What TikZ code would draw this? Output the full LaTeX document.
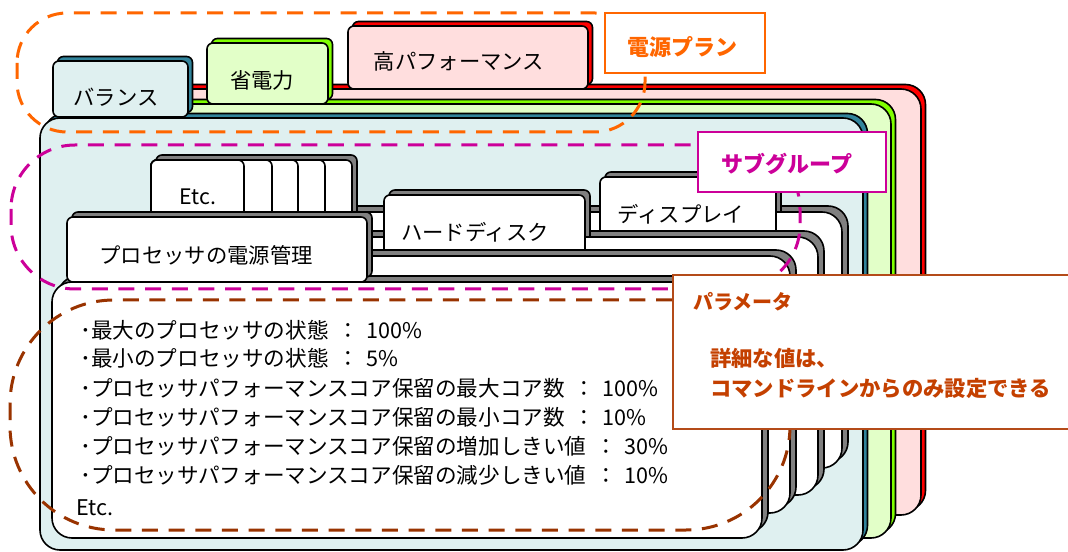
\documentclass[tikz,border=0pt]{standalone}
\usepackage{fontspec}
\setmainfont{Noto Sans CJK JP}
\definecolor{pinkf}{RGB}{255,222,222}
\definecolor{redr}{RGB}{255,0,0}
\definecolor{greenf}{RGB}{226,255,200}
\definecolor{greenr}{RGB}{128,255,0}
\definecolor{tealf}{RGB}{223,240,240}
\definecolor{tealr}{RGB}{49,132,155}
\definecolor{grayr}{RGB}{128,128,128}
\definecolor{orng}{RGB}{255,102,0}
\definecolor{mag}{RGB}{204,0,153}
\definecolor{brn}{RGB}{153,51,0}
\definecolor{ptext}{RGB}{196,64,0}
\definecolor{pbox}{RGB}{180,75,25}
\newcommand{\colsep}[1]{\hspace{0.4em}：\hspace{0.35em}#1}
\begin{document}
\begin{tikzpicture}[x=0.75pt,y=-0.75pt,
  ol/.style={draw=black,line width=1.2pt,line join=round},
  ptab/.style={ol,rounded corners=4.5pt},
  pbody/.style={ol,rounded corners=15pt},
  stab/.style={ol,rounded corners=4.5pt},
  sbody/.style={ol,rounded corners=15pt},
  tablbl/.style={inner sep=0pt,font=\fontsize{16pt}{18pt}\selectfont},
  listtxt/.style={inner sep=0pt,anchor=west,font=\fontsize{16.2pt}{19pt}\selectfont},
  loop/.style={line width=2.25pt,dash pattern=on 12pt off 8pt},
  lblbox/.style={line width=1.5pt,fill=white},
  lbltxt/.style={inner sep=0pt,font=\fontsize{16.5pt}{20pt}\selectfont\bfseries},
  paramtxt/.style={inner sep=0pt,anchor=west,text=ptext,font=\fontsize{16pt}{19pt}\selectfont\bfseries}
]
\useasboundingbox (0,0) rectangle (1068,552);
% ---------- power plans ----------
% high performance (red)
\draw[pbody,fill=redr] (64.5,84.5) rectangle (925.5,510.5);
\draw[ptab,fill=redr] (352.5,21.5) rectangle (592.5,84.5);
\draw[pbody,fill=pinkf] (60,89) rectangle (921,515);
\draw[ptab,fill=pinkf] (348,26) rectangle (588,89);
\node[tablbl] (high) at (459,61) {高パフォーマンス};
% power saver (green)
\draw[pbody,fill=greenr] (62.5,99.5) rectangle (895.5,533.5);
\draw[ptab,fill=greenr] (211.5,38.5) rectangle (332.5,99.5);
\draw[pbody,fill=greenf] (58,104) rectangle (891,538);
\draw[ptab,fill=greenf] (207,43) rectangle (328,104);
\node[tablbl] (saver) at (262,80) {省電力};
% balanced (teal)
\draw[pbody,fill=tealr] (44.5,113.5) rectangle (867.5,545.5);
\draw[ptab,fill=tealr] (57.5,56.5) rectangle (192.5,112.5);
\draw[pbody,fill=tealf] (40,118) rectangle (863,550);
\draw[ptab,fill=tealf] (53,61) rectangle (188,117);
\node[tablbl] (bal) at (116,97) {バランス};
% ---------- subgroups ----------
% display
\draw[sbody,fill=grayr] (166,206) rectangle (848,462);
\draw[stab,fill=grayr] (605,172) rectangle (781,235);
\draw[sbody,fill=white] (160,212) rectangle (842,468);
\draw[stab,fill=white] (600,177) rectangle (776,240);
\node[tablbl] (disp) at (681,214) {ディスプレイ};
% hard disk
\draw[sbody,fill=grayr] (166,231) rectangle (824,489);
\draw[stab,fill=grayr] (389,190) rectangle (590,251);
\draw[sbody,fill=white] (160,237) rectangle (818,495);
\draw[stab,fill=white] (384,195) rectangle (585,256);
\node[tablbl] (hdd) at (475,232) {ハードディスク};
% etc.
\draw[sbody,fill=grayr] (166,250) rectangle (796,507);
\draw[stab,fill=grayr] (156,155) rectangle (357,251);
\draw[sbody,fill=white] (160,256) rectangle (790,513);
\draw[stab,fill=white] (151,160) rectangle (352,256);
\draw[stab,fill=white] (151,160) rectangle (325,256);
\draw[stab,fill=white] (151,160) rectangle (298,256);
\draw[stab,fill=white] (151,160) rectangle (272,256);
\draw[stab,fill=white] (151,160) rectangle (244,256);
\node[tablbl] (etctab) at (198,197) {Etc.};
% processor
\draw[sbody,fill=grayr] (58,276) rectangle (768,532);
\draw[stab,fill=grayr] (72,212) rectangle (372,277);
\draw[sbody,fill=white] (52,282) rectangle (762,538);
\draw[stab,fill=white] (67,217) rectangle (367,282);
\node[tablbl] (proc) at (206,255) {プロセッサの電源管理};
% parameter list
\node[listtxt] (p1) at (80,330) {･最大のプロセッサの状態\colsep{100\%}};
\node[listtxt] (p2) at (80,358) {･最小のプロセッサの状態\colsep{5\%}};
\node[listtxt] (p3) at (80,388) {･プロセッサパフォーマンスコア保留の最大コア数\colsep{100\%}};
\node[listtxt] (p4) at (80,417) {･プロセッサパフォーマンスコア保留の最小コア数\colsep{10\%}};
\node[listtxt] (p5) at (80,446) {･プロセッサパフォーマンスコア保留の増加しきい値\colsep{30\%}};
\node[listtxt] (p6) at (80,475) {･プロセッサパフォーマンスコア保留の減少しきい値\colsep{10\%}};
\node[listtxt] (p7) at (76,508) {Etc.};
% ---------- dashed loops ----------
\draw[loop,orng,rounded corners=37.5pt] (17,13) rectangle (645,132);
\draw[loop,mag,rounded corners=48pt] (11,145) rectangle (800,289);
\draw[loop,brn,rounded corners=78pt] (10,300) rectangle (790,530);
% ---------- label boxes ----------
\draw[lblbox,draw=orng] (605,13) rectangle (765,73);
\node[lbltxt,text=orng] (plan) at (682,47) {電源プラン};
\draw[lblbox,draw=mag] (698,132) rectangle (886,192);
\node[lbltxt,text=mag] (sub) at (787,164) {サブグループ};
\draw[lblbox,draw=pbox] (1075,275) -- (673,275) -- (673,429) -- (1075,429);
\node[paramtxt,font=\fontsize{15pt}{18pt}\selectfont\bfseries] (param) at (693,302) {パラメータ};
\node[paramtxt] (d1) at (710,358) {詳細な値は、};
\node[paramtxt] (d2) at (710,388) {コマンドラインからのみ設定できる};
\end{tikzpicture}
\end{document}
